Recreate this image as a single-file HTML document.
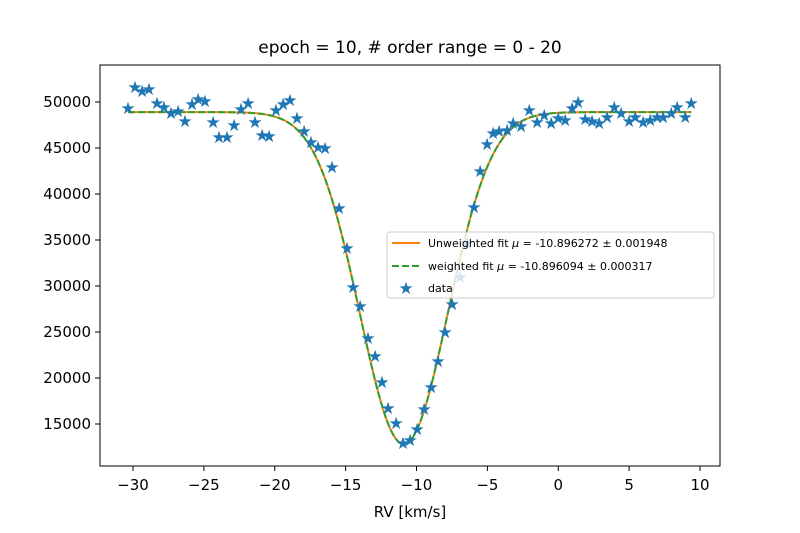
<!DOCTYPE html>
<html><head><meta charset="utf-8"><style>
body{margin:0;background:#fff;}
svg{display:block;font-family:"DejaVu Sans","Liberation Sans",sans-serif;}
</style></head><body>
<svg id="chart" width="800" height="533" viewBox="0 0 800 533">
<text x="410" y="53" font-size="17" text-anchor="middle">epoch = 10, # order range = 0 - 20</text>
<g id="plot"></g>
<rect x="100" y="65" width="620" height="401" fill="none" stroke="#000" stroke-width="1"/>
<g id="xt"></g>
<g id="yt"></g>
<text x="410" y="517" font-size="15" text-anchor="middle">RV [km/s]</text>
<g>
<rect x="387" y="232" width="327" height="66" rx="3" fill="#fff" fill-opacity="0.8" stroke="#ccc"/>
<line x1="392" y1="243" x2="420" y2="243" stroke="#ff7f0e" stroke-width="2"/>
<text x="428" y="247" font-size="11">Unweighted fit <tspan font-style="italic">μ</tspan> = -10.896272 ± 0.001948</text>
<line x1="392" y1="266" x2="420" y2="266" stroke="#2ca02c" stroke-width="2" stroke-dasharray="7,3"/>
<text x="428" y="270" font-size="11">weighted fit <tspan font-style="italic">μ</tspan> = -10.896094 ± 0.000317</text>
<text x="406" y="294" font-size="17" fill="#1f77b4" text-anchor="middle">★</text>
<text x="428" y="292" font-size="11">data</text>
</g>
</svg>
<script>
const rv=[-30.35,-29.86,-29.36,-28.87,-28.31,-27.81,-27.32,-26.82,-26.33,-25.84,-25.41,-24.92,-24.35,-23.93,-23.37,-22.87,-22.38,-21.88,-21.39,-20.89,-20.40,-19.91,-19.41,-18.92,-18.43,-17.93,-17.44,-16.94,-16.45,-15.96,-15.46,-14.90,-14.47,-13.98,-13.42,-12.92,-12.43,-12.00,-11.44,-10.95,-10.45,-9.96,-9.46,-8.97,-8.48,-7.98,-7.49,-6.92,-6.43,-5.94,-5.51,-5.02,-4.59,-4.17,-3.61,-3.18,-2.62,-2.05,-1.49,-0.99,-0.50,0.00,0.49,0.98,1.40,1.90,2.39,2.89,3.45,3.95,4.44,5.00,5.43,5.99,6.49,6.98,7.40,7.97,8.39,8.96,9.38];
const flux=[49350,51630,51200,51410,49890,49460,48800,49020,47930,49780,50330,50110,47830,46200,46200,47500,49240,49890,47830,46410,46300,49130,49780,50220,48260,46850,45650,45110,45000,42930,38480,34130,29890,27820,24350,22390,19560,16740,15110,12940,13260,14460,16630,19020,21850,25000,28040,30980,34670,38590,42500,45430,46630,46850,46960,47720,47390,49130,47830,48590,47720,48260,48040,49350,50000,48150,47930,47720,48370,49460,48800,47930,48370,47830,48040,48370,48370,48800,49460,48370,49890];
const fitParams=[48900,36100,-10.896,3.1]; // continuum, depth, mu, sigma
const xTicks=[-30,-25,-20,-15,-10,-5,0,5,10];
const yTicks=[15000,20000,25000,30000,35000,40000,45000,50000];
const NS="http://www.w3.org/2000/svg";
const X=v=>133+(v+30)*14.175;
const Y=v=>102-(v-50000)*0.0092;
function mk(t,a,p){const e=document.createElementNS(NS,t);for(const k in a)e.setAttribute(k,a[k]);p.appendChild(e);return e;}
const plot=document.getElementById('plot'),xt=document.getElementById('xt'),yt=document.getElementById('yt');
xTicks.forEach(t=>{
  const l=mk('line',{x1:X(t),x2:X(t),y1:466,y2:471,stroke:'#000'},xt);
  
  
  const s=mk('text',{x:X(t),y:490,'font-size':15,'text-anchor':'middle'},xt);s.textContent=t<0?'−'+(-t):t;
  
  
});
yTicks.forEach(t=>{
  const l=mk('line',{x1:95,x2:100,y1:Y(t),y2:Y(t),stroke:'#000'},yt);
  
  
  const s=mk('text',{x:91,y:Y(t)+5,'font-size':15,'text-anchor':'end'},yt);s.textContent=t;
  
  
});
const [C,A,mu,sg]=fitParams;
let d='';
const x0=rv[0],x1=rv[rv.length-1];
for(let i=0;i<=400;i++){const v=x0+(x1-x0)*i/400;const f=C-A*Math.exp(-(v-mu)*(v-mu)/(2*sg*sg));d+=(i?'L':'M')+X(v).toFixed(2)+','+Y(f).toFixed(2);}
const p1=mk('path',{d:d,fill:'none',stroke:'#ff7f0e','stroke-width':2},plot);


const p2=mk('path',{d:d,fill:'none',stroke:'#2ca02c','stroke-width':2,'stroke-dasharray':'7,3'},plot);


rv.forEach((v,i)=>{
  const s=mk('text',{x:X(v),y:Y(flux[i])+6,'font-size':17,fill:'#1f77b4','text-anchor':'middle'},plot);
  s.textContent='★';
  
  
});
</script>
</body></html>
